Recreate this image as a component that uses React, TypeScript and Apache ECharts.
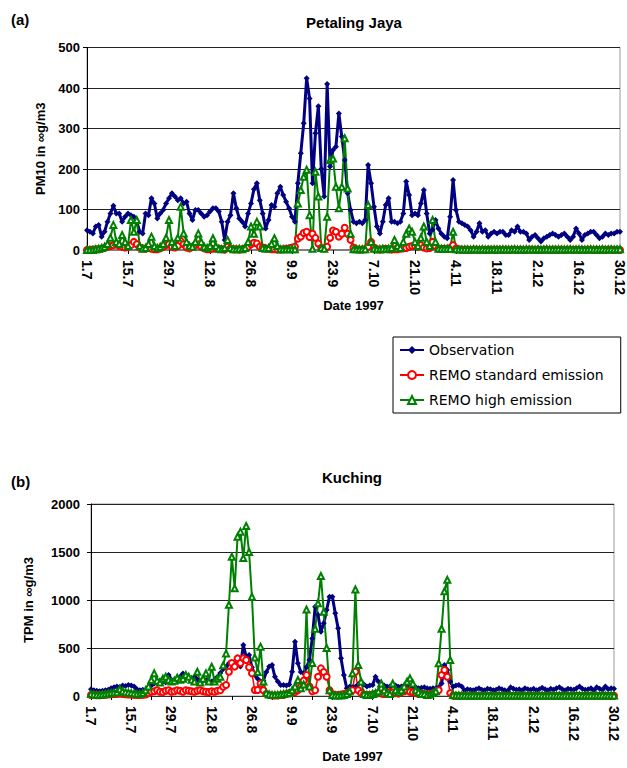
import React, { useEffect, useRef } from "react";
import * as echarts from "echarts";

// Dates 1.7 .. 30.12 (1997)
const monthLengths: [number, number][] = [[7, 31], [8, 31], [9, 30], [10, 31], [11, 30], [12, 30]];
const dates: string[] = [];
for (const [m, n] of monthLengths) for (let d = 1; d <= n; d++) dates.push(`${d}.${m}`);

const seriesNames = ["Observation", "REMO standard emission", "REMO high emission"];

// (a) Petaling Jaya, PM10
const pjObs = [
  49, 45, 41, 58, 62, 33, 45, 70, 90, 109,
  90, 90, 70, 82, 90, 86, 82, 70, 45, 41,
  90, 86, 128, 115, 78, 90, 99, 115, 128, 140,
  132, 123, 128, 115, 119, 90, 74, 99, 99, 90,
  82, 86, 95, 103, 103, 95, 70, 25, 70, 86,
  140, 103, 78, 70, 58, 90, 115, 150, 165, 123,
  90, 53, 74, 111, 107, 140, 156, 136, 119, 103,
  82, 70, 165, 239, 313, 424, 374, 165, 288, 355,
  200, 132, 410, 206, 247, 255, 337, 280, 222, 140,
  99, 70, 66, 70, 66, 74, 210, 165, 107, 58,
  41, 70, 111, 128, 70, 70, 66, 70, 90, 169,
  136, 86, 90, 86, 115, 148, 90, 41, 50, 74,
  53, 40, 33, 29, 82, 173, 99, 70, 66, 62,
  58, 49, 33, 45, 66, 45, 49, 33, 41, 45,
  41, 45, 45, 37, 37, 49, 45, 58, 45, 45,
  41, 25, 33, 37, 29, 21, 29, 33, 37, 41,
  37, 33, 37, 41, 33, 25, 33, 53, 41, 25,
  37, 41, 45, 45, 37, 29, 33, 41, 37, 41,
  41, 45, 45,
];
const pjStd = [
  0, 0, 1, 2, 2, 3, 5, 8, 10, 12,
  14, 10, 8, 6, 8, 12, 20, 14, 6, 4,
  3, 5, 3, 2, 2, 4, 8, 12, 14, 8,
  6, 10, 22, 14, 6, 4, 8, 12, 14, 8,
  4, 2, 2, 3, 4, 3, 2, 1, 8, 4,
  2, 2, 1, 2, 4, 8, 14, 18, 16, 8,
  6, 4, 3, 2, 2, 1, 1, 2, 3, 4,
  6, 8, 28, 33, 42, 45, 32, 40, 30, 16,
  5, 4, 8, 30, 48, 45, 33, 40, 55, 40,
  25, 6, 2, 1, 1, 2, 8, 20, 6, 2,
  1, 2, 3, 2, 1, 2, 2, 3, 4, 5,
  8, 10, 10, 8, 12, 6, 4, 5, 20, 10,
  3, 3, 3, 3, 5, 12, 4, 2, 1, 1,
  1, 0, 1, 1, 0, 1, 0, 1, 1, 0,
  1, 1, 0, 1, 0, 1, 1, 0, 1, 0,
  0, 1, 1, 0, 1, 0, 1, 1, 0, 1,
  1, 0, 1, 0, 1, 1, 0, 1, 0, 1,
  0, 1, 1, 0, 1, 0, 1, 0, 1, 1,
  0, 1, 0,
];
const pjHigh = [
  0, 0, 0, 2, 3, 5, 8, 15, 30, 62,
  20, 15, 37, 20, 10, 74, 45, 74, 10, 3,
  5, 15, 33, 10, 5, 8, 15, 30, 74, 20,
  10, 30, 107, 41, 20, 10, 8, 20, 41, 20,
  8, 5, 10, 29, 10, 3, 2, 5, 25, 5,
  2, 2, 3, 2, 5, 20, 58, 40, 70, 58,
  5, 3, 5, 15, 29, 10, 2, 2, 2, 2,
  2, 2, 115, 148, 181, 198, 86, 3, 193, 132,
  5, 3, 82, 222, 226, 156, 103, 156, 276, 152,
  40, 2, 2, 2, 2, 2, 111, 20, 3, 2,
  2, 3, 2, 3, 5, 25, 10, 5, 20, 40,
  53, 45, 20, 10, 30, 58, 20, 10, 74, 20,
  3, 3, 3, 3, 3, 45, 2, 1, 1, 1,
  1, 1, 2, 1, 1, 2, 1, 1, 1, 2,
  1, 1, 2, 1, 1, 1, 2, 1, 1, 1,
  2, 1, 1, 1, 2, 1, 1, 2, 1, 1,
  1, 2, 1, 1, 1, 2, 1, 1, 2, 1,
  1, 1, 2, 1, 1, 1, 2, 1, 1, 2,
  1, 1, 2,
];

// (b) Kuching, TPM
const kuObs = [
  70, 60, 55, 50, 55, 60, 65, 80, 90, 100,
  95, 110, 105, 115, 110, 100, 70, 60, 65, 60,
  70, 110, 130, 140, 160, 150, 140, 220, 170, 150,
  180, 200, 235, 210, 190, 185, 200, 170, 150, 160,
  165, 150, 150, 170, 200, 240, 280, 305, 340, 345,
  330, 380, 306, 531, 410, 427, 300, 220, 180, 150,
  160, 250, 306, 323, 200, 150, 115, 115, 110, 120,
  253, 566, 340, 250, 236, 300, 375, 600, 930, 844,
  670, 757, 896, 1035, 1035, 861, 705, 392, 219, 80,
  97, 90, 97, 120, 150, 120, 100, 110, 115, 200,
  150, 130, 110, 100, 100, 120, 110, 97, 100, 110,
  115, 105, 100, 95, 80, 85, 90, 80, 75, 80,
  80, 90, 130, 323, 270, 150, 97, 110, 115, 100,
  60, 70, 65, 60, 70, 80, 65, 60, 75, 70,
  60, 65, 80, 70, 60, 55, 90, 75, 65, 70,
  60, 80, 70, 65, 75, 60, 70, 85, 70, 60,
  75, 65, 80, 90, 70, 60, 75, 70, 65, 80,
  100, 75, 65, 70, 80, 60, 90, 75, 65, 100,
  70, 80, 75,
];
const kuStd = [
  10, 10, 8, 8, 10, 12, 15, 18, 20, 20,
  25, 20, 18, 15, 15, 12, 10, 10, 12, 15,
  30, 45, 50, 60, 45, 40, 55, 60, 45, 50,
  60, 55, 45, 60, 55, 50, 45, 55, 60, 50,
  45, 40, 50, 45, 55, 60, 97, 115, 253, 344,
  306, 392, 344, 392, 375, 300, 236, 62, 62, 130,
  60, 20, 10, 5, 5, 5, 10, 10, 20, 30,
  30, 40, 60, 100, 160, 219, 100, 50, 60, 200,
  288, 250, 200, 60, 20, 10, 10, 15, 20, 30,
  40, 60, 253, 60, 30, 15, 10, 10, 15, 20,
  30, 25, 20, 30, 40, 35, 30, 25, 40, 50,
  60, 45, 35, 30, 20, 25, 20, 15, 20, 30,
  40, 60, 219, 270, 200, 30, 5, 3, 2, 2,
  2, 1, 2, 3, 2, 1, 2, 2, 1, 2,
  3, 2, 1, 2, 2, 1, 2, 3, 2, 1,
  2, 2, 1, 2, 3, 2, 1, 2, 2, 1,
  2, 3, 2, 1, 2, 2, 1, 2, 3, 2,
  1, 2, 2, 1, 2, 3, 2, 1, 2, 2,
  1, 2, 2,
];
const kuHigh = [
  20, 15, 10, 10, 15, 20, 25, 30, 35, 40,
  70, 50, 40, 35, 30, 25, 20, 20, 30, 60,
  100, 167, 236, 160, 140, 180, 200, 170, 150, 160,
  190, 170, 180, 219, 200, 170, 150, 253, 140, 180,
  236, 150, 305, 150, 180, 200, 320, 444, 950, 1451,
  1122, 1660, 1712, 1437, 1771, 1500, 1034, 400, 250, 514,
  150, 30, 15, 10, 10, 10, 15, 20, 25, 30,
  60, 100, 167, 80, 120, 900, 100, 344, 700, 965,
  1250, 878, 500, 60, 10, 5, 5, 5, 10, 20,
  50, 236, 1110, 323, 150, 20, 10, 10, 20, 30,
  50, 130, 60, 30, 20, 130, 60, 40, 60, 100,
  150, 184, 130, 60, 40, 20, 20, 10, 15, 30,
  50, 340, 700, 1090, 1210, 375, 10, 5, 5, 5,
  5, 4, 5, 6, 5, 4, 5, 5, 6, 5,
  4, 5, 6, 5, 4, 5, 5, 6, 5, 4,
  5, 6, 5, 4, 5, 5, 6, 5, 4, 5,
  6, 5, 4, 5, 5, 6, 5, 4, 5, 6,
  5, 4, 5, 5, 6, 5, 4, 5, 6, 5,
  4, 5, 5,
];

const F = "'Liberation Sans', Arial, Helvetica, sans-serif";
const bold = { fontFamily: F, fontWeight: "bold" as const, fontSize: 13, color: "#000" };

function makeSeries(name: string, data: number[], idx: number) {
  const base: any = {
    name,
    type: "line",
    xAxisIndex: idx,
    yAxisIndex: idx,
    data,
    showAllSymbol: true,
    symbolSize: 6,
    z: 2,
  };
  if (name === seriesNames[0]) {
    return { ...base, symbol: "diamond", symbolSize: 6, color: "#000080", lineStyle: { color: "#000080", width: 3 }, itemStyle: { color: "#000080" } };
  }
  if (name === seriesNames[1]) {
    return { ...base, symbol: "emptyCircle", symbolSize: 6, color: "#FF0000", lineStyle: { color: "#FF0000", width: 1.5 }, itemStyle: { color: "#FF0000", borderWidth: 1.2 } };
  }
  return { ...base, symbol: "emptyTriangle", symbolSize: 6, color: "#008000", lineStyle: { color: "#008000", width: 2 }, itemStyle: { color: "#008000", borderWidth: 1.2 } };
}

function xAxisFor(idx: number, tickInterval: number, nameGap: number, lineColor: string, lineWidth: number) {
  return {
    type: "category",
    gridIndex: idx,
    data: dates,
    boundaryGap: false,
    axisLine: { lineStyle: { color: lineColor, width: lineWidth } },
    axisTick: { interval: tickInterval, length: 4, lineStyle: { color: "#000" } },
    axisLabel: { interval: 13, rotate: -90, margin: 10, ...bold, fontSize: 14 },
    splitLine: { show: false },
    name: "Date 1997",
    nameLocation: "middle",
    nameGap,
    nameTextStyle: { ...bold },
  };
}

function yAxisFor(idx: number, max: number, interval: number, name: string, nameGap: number, labelMargin: number) {
  return {
    type: "value",
    gridIndex: idx,
    min: 0,
    max,
    interval,
    axisLine: { show: true, lineStyle: { color: "#000", width: 1 } },
    axisTick: { show: true, length: 4, lineStyle: { color: "#000" } },
    axisLabel: { margin: labelMargin, ...bold, formatter: (v: number) => String(v) },
    splitLine: { lineStyle: { color: "#222", width: 1 } },
    name,
    nameLocation: "middle",
    nameRotate: 90,
    nameGap,
    nameTextStyle: { ...bold },
  };
}

export default function App() {
  const ref = useRef<HTMLDivElement>(null);
  useEffect(() => {
    if (!ref.current) return;
    const chart = echarts.init(ref.current, undefined, { renderer: "svg" });
    const option: any = {
      animation: false,
      backgroundColor: "#fff",
      graphic: [
        { type: "text", x: 354, y: 22, style: { text: "Petaling Jaya", align: "center", verticalAlign: "middle", font: `bold 15px ${F}`, fill: "#000" } },
        { type: "text", x: 352, y: 477, style: { text: "Kuching", align: "center", verticalAlign: "middle", font: `bold 15px ${F}`, fill: "#000" } },
        { type: "text", x: 11, y: 19, style: { text: "(a)", align: "left", verticalAlign: "middle", font: `bold 15px ${F}`, fill: "#000" } },
        { type: "text", x: 11, y: 481, style: { text: "(b)", align: "left", verticalAlign: "middle", font: `bold 15px ${F}`, fill: "#000" } },
      ],
      legend: {
        orient: "vertical",
        left: 393,
        top: 337,
        padding: [6, 17, 6, 6],
        itemGap: 11,
        itemWidth: 24,
        itemHeight: 10,
        borderColor: "#000",
        borderWidth: 1,
        backgroundColor: "#fff",
        textStyle: { fontFamily: "'DejaVu Sans', Verdana, sans-serif", fontSize: 14, color: "#000" },
        data: seriesNames,
      },
      grid: [
        { left: 87, top: 47.5, width: 535, height: 202.5, show: true, borderColor: "#999", borderWidth: 1 },
        { left: 91, top: 504, width: 523, height: 192, show: true, borderColor: "#999", borderWidth: 1 },
      ],
      xAxis: [
        xAxisFor(0, 13, 47, "#808080", 2),
        xAxisFor(1, 6, 54, "#333", 1),
      ],
      yAxis: [
        yAxisFor(0, 500, 100, "PM10 in ∞g/m3", 40, 7),
        yAxisFor(1, 2000, 500, "TPM in ∞g/m3", 56, 11),
      ],
      series: [
        makeSeries(seriesNames[0], pjObs, 0),
        makeSeries(seriesNames[1], pjStd, 0),
        makeSeries(seriesNames[2], pjHigh, 0),
        makeSeries(seriesNames[0], kuObs, 1),
        makeSeries(seriesNames[1], kuStd, 1),
        makeSeries(seriesNames[2], kuHigh, 1),
      ],
    };
    chart.setOption(option);
    return () => chart.dispose();
  }, []);
  return <div ref={ref} style={{ position: "fixed", left: 0, top: 0, width: 627, height: 768 }} />;
}
